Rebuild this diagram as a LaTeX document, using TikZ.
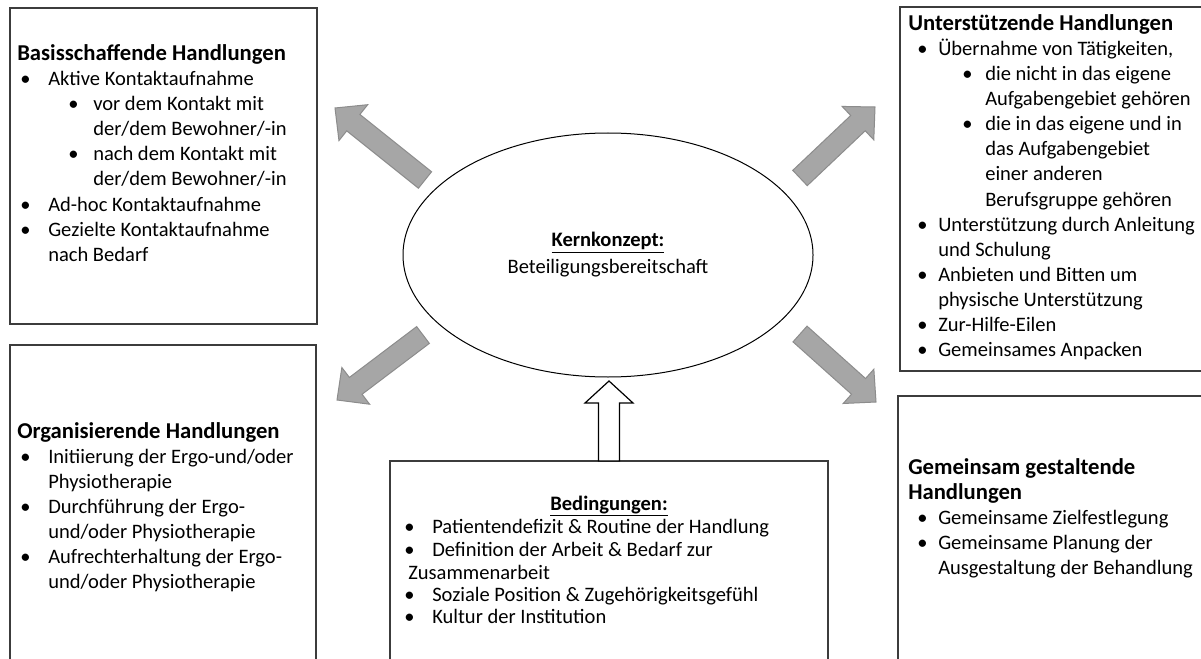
\documentclass[tikz,border=0pt]{standalone}
\usepackage{fontspec}
\setmainfont{Carlito}
\usetikzlibrary{calc,fit,shapes.geometric}
\definecolor{arrowfill}{RGB}{166,166,166}
\definecolor{arrowline}{RGB}{140,140,140}
\definecolor{boxline}{RGB}{60,60,60}
\newdimen\pxu \pxu=0.75pt
\newcommand{\bodyfont}{\fontsize{15.4}{18.75}\selectfont}
\newcommand{\titlefont}{\fontsize{17}{18.75}\selectfont\bfseries}
\newcommand{\bul}[1][28]{\hspace*{-#1\pxu}\makebox[#1\pxu][l]{\textbullet}}
% #1 style, #2 tail, #3 tip, #4 shaft half width, #5 head half width, #6 head length
\newcommand{\blockarrow}[6]{%
  \coordinate (#2-h) at ($(#3)!#6!(#2)$);
  \draw[#1] ($(#2)!#4!90:(#3)$) -- ($(#2-h)!#4!90:(#3)$) -- ($(#2-h)!#5!90:(#3)$)
    -- (#3) -- ($(#2-h)!#5!-90:(#3)$) -- ($(#2-h)!#4!-90:(#3)$) -- ($(#2)!#4!-90:(#3)$) -- cycle;}
\tikzset{
  boxst/.style={draw=boxline, line width=1pt, inner sep=0pt, rectangle},
  txt/.style={anchor=base west, inner sep=0pt, font=\bodyfont},
  ttl/.style={anchor=base west, inner sep=0pt, font=\titlefont},
  grayarrow/.style={fill=arrowfill, draw=arrowline, line width=0.75pt, line join=miter},
  whitearrow/.style={fill=white, draw=black, line width=0.9pt, line join=miter},
}
\begin{document}
\begin{tikzpicture}[x=0.75pt, y=-0.75pt]
\useasboundingbox (0,0) rectangle (1201,659);
\fill[white] (0,0) rectangle (1201,659);

% boxes
\node[boxst, fit={(10,8) (317,324)}] (b1) {};
\node[boxst, fit={(900,7) (1210,371)}] (b2) {};
\node[boxst, fit={(10,345) (316,670)}] (b3) {};
\node[boxst, fit={(898,396) (1210,670)}] (b4) {};
\node[boxst, fit={(390,461) (828,670)}] (b5) {};

% core ellipse
\node[ellipse, draw=black, line width=0.75pt, minimum width=307.5pt, minimum height=183pt,
      inner sep=0pt, align=center, font=\bodyfont] (core) at (608,255)
      {\underline{\textbf{Kernkonzept:}}\\[1.5pt]Beteiligungsbereitschaft};

% arrows
\coordinate (ulT) at (425,180); \coordinate (ulP) at (335,108);
\coordinate (urT) at (800,178); \coordinate (urP) at (875,107);
\coordinate (llT) at (423,335); \coordinate (llP) at (337,400);
\coordinate (lrT) at (800,334); \coordinate (lrP) at (876,402);
\coordinate (upT) at (609,461); \coordinate (upP) at (609,381);
\blockarrow{grayarrow}{ulT}{ulP}{7.9pt}{17.25pt}{17.6pt}
\blockarrow{grayarrow}{urT}{urP}{7.9pt}{17.25pt}{17.6pt}
\blockarrow{grayarrow}{llT}{llP}{7.9pt}{17.25pt}{17.6pt}
\blockarrow{grayarrow}{lrT}{lrP}{7.9pt}{17.25pt}{17.6pt}
\blockarrow{whitearrow}{upT}{upP}{7.9pt}{18pt}{16.5pt}

% Box 1
\node[ttl] (b1-0) at (17,61) {Basisschaffende Handlungen};
\node[txt] (b1-1) at (48,86) {\bul Aktive Kontaktaufnahme};
\node[txt] (b1-2) at (93,111) {\bul[25]vor dem Kontakt mit};
\node[txt] (b1-3) at (93,136) {der/dem Bewohner/-in};
\node[txt] (b1-4) at (93,161) {\bul[25]nach dem Kontakt mit};
\node[txt] (b1-5) at (93,186) {der/dem Bewohner/-in};
\node[txt] (b1-6) at (48,211) {\bul Ad-hoc Kontaktaufnahme};
\node[txt] (b1-7) at (48,236) {\bul Gezielte Kontaktaufnahme};
\node[txt] (b1-8) at (48,261) {nach Bedarf};

% Box 2
\node[ttl] (b2-0) at (908,31) {Unterstützende Handlungen};
\node[txt] (b2-1) at (938,56) {\bul[21]Übernahme von Tätigkeiten,};
\node[txt] (b2-2) at (985,81) {\bul[23]die nicht in das eigene};
\node[txt] (b2-3) at (985,106) {Aufgabengebiet gehören};
\node[txt] (b2-4) at (985,131) {\bul[23]die in das eigene und in};
\node[txt] (b2-5) at (985,156) {das Aufgabengebiet};
\node[txt] (b2-6) at (985,181) {einer anderen};
\node[txt] (b2-7) at (985,206) {Berufsgruppe gehören};
\node[txt] (b2-8) at (938,231) {\bul[21]Unterstützung durch Anleitung};
\node[txt] (b2-9) at (938,256) {und Schulung};
\node[txt] (b2-10) at (938,281) {\bul[21]Anbieten und Bitten um};
\node[txt] (b2-11) at (938,306) {physische Unterstützung};
\node[txt] (b2-12) at (938,331) {\bul[21]Zur-Hilfe-Eilen};
\node[txt] (b2-13) at (938,356) {\bul[21]Gemeinsames Anpacken};

% Box 3
\node[ttl] (b3-0) at (17,438) {Organisierende Handlungen};
\node[txt] (b3-1) at (48,463) {\bul Initiierung der Ergo-und/oder};
\node[txt] (b3-2) at (48,488) {Physiotherapie};
\node[txt] (b3-3) at (48,513) {\bul Durchführung der Ergo-};
\node[txt] (b3-4) at (48,538) {und/oder Physiotherapie};
\node[txt] (b3-5) at (48,563) {\bul Aufrechterhaltung der Ergo-};
\node[txt] (b3-6) at (48,588) {und/oder Physiotherapie};

% Box 4
\node[ttl] (b4-0) at (908,474) {Gemeinsam gestaltende};
\node[ttl] (b4-1) at (908,499) {Handlungen};
\node[txt] (b4-2) at (938,524) {\bul[21]Gemeinsame Zielfestlegung};
\node[txt] (b4-3) at (938,549) {\bul[21]Gemeinsame Planung der};
\node[txt] (b4-4) at (938,574) {Ausgestaltung der Behandlung};

% Box 5
\node[anchor=base, inner sep=0pt, font=\bodyfont] (b5-0) at (609,510) {\underline{\textbf{Bedingungen:}}};
\node[txt] (b5-1) at (432,533) {\bul[28]Patientendefizit \& Routine der Handlung};
\node[txt] (b5-2) at (432,556) {\bul[28]Definition der Arbeit \& Bedarf zur};
\node[txt] (b5-3) at (408,579) {Zusammenarbeit};
\node[txt] (b5-4) at (432,601) {\bul[28]Soziale Position \& Zugehörigkeitsgefühl};
\node[txt] (b5-5) at (432,623) {\bul[28]Kultur der Institution};
\end{tikzpicture}
\end{document}
